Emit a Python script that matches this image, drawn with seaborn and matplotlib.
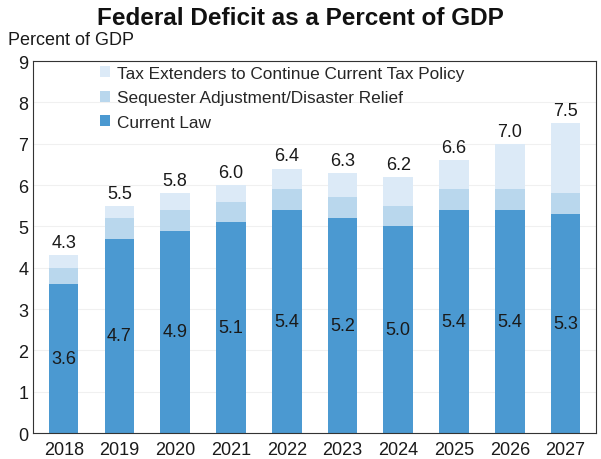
import numpy as np
import pandas as pd
import matplotlib
matplotlib.use("Agg")
import matplotlib.pyplot as plt
import seaborn as sns

# --- DATA ---
years = ["2018", "2019", "2020", "2021", "2022", "2023", "2024", "2025", "2026", "2027"]
current_law = [3.6, 4.7, 4.9, 5.1, 5.4, 5.2, 5.0, 5.4, 5.4, 5.3]
sequester = [0.4, 0.5, 0.5, 0.5, 0.5, 0.5, 0.5, 0.5, 0.5, 0.5]
totals = [4.3, 5.5, 5.8, 6.0, 6.4, 6.3, 6.2, 6.6, 7.0, 7.5]

C_LAW = "#4b99d1"
C_SEQ = "#b9d7ed"
C_EXT = "#dceaf7"

df = pd.DataFrame({
    "year": years,
    "current": current_law,
    "seq_top": np.array(current_law) + np.array(sequester),
    "total": totals,
})

sns.set_style("white")
plt.rcParams["font.family"] = ["Liberation Sans", "DejaVu Sans"]

fig = plt.figure(figsize=(6.01, 4.60), dpi=100)
ax = fig.add_axes([0.055, 0.0565, 0.937, 0.8085])

# stacked look: draw cumulative heights largest first
bar_kw = dict(x="year", width=0.53, saturation=1, linewidth=0, ax=ax)
sns.barplot(data=df, y="total", color=C_EXT,
            label="Tax Extenders to Continue Current Tax Policy", **bar_kw)
sns.barplot(data=df, y="seq_top", color=C_SEQ,
            label="Sequester Adjustment/Disaster Relief", **bar_kw)
sns.barplot(data=df, y="current", color=C_LAW, label="Current Law", **bar_kw)

for i, (cl, tot) in enumerate(zip(current_law, totals)):
    ax.text(i, cl / 2, f"{cl:.1f}", ha="center", va="center", fontsize=13, color="#1a1a1a")
    ax.text(i, tot + 0.1, f"{tot:.1f}", ha="center", va="bottom", fontsize=13, color="#1a1a1a")

ax.set_ylim(0, 9)
ax.set_xlim(-0.55, 9.55)
ax.set_yticks(range(0, 10))
ax.yaxis.grid(True, color="#f0f0f0", linewidth=0.8)
ax.set_axisbelow(True)
ax.set_xlabel("")
ax.set_ylabel("")
ax.tick_params(axis="both", labelsize=13, colors="#1a1a1a", direction="in", length=4)
ax.set_xticks(np.arange(-0.5, 10, 1), minor=True)
ax.tick_params(axis="x", which="major", length=0, pad=6)
ax.tick_params(axis="x", which="minor", length=5, direction="in", color="#333333")
for s in ax.spines.values():
    s.set_color("#333333")
    s.set_linewidth(0.8)

handles, labels = ax.get_legend_handles_labels()
ax.legend(handles, labels, loc="upper left", bbox_to_anchor=(0.1, 1.015), frameon=False,
          fontsize=12.4, handlelength=0.6, handleheight=0.6, handletextpad=0.4,
          labelspacing=0.55, borderaxespad=0.2)

fig.text(0.5, 0.985, "Federal Deficit as a Percent of GDP", ha="center", va="top",
         fontsize=17.5, fontweight="bold", color="#111111")
fig.text(0.014, 0.93, "Percent of GDP", ha="left", va="top", fontsize=13, color="#1a1a1a")

fig.savefig("out.png", dpi=100)
